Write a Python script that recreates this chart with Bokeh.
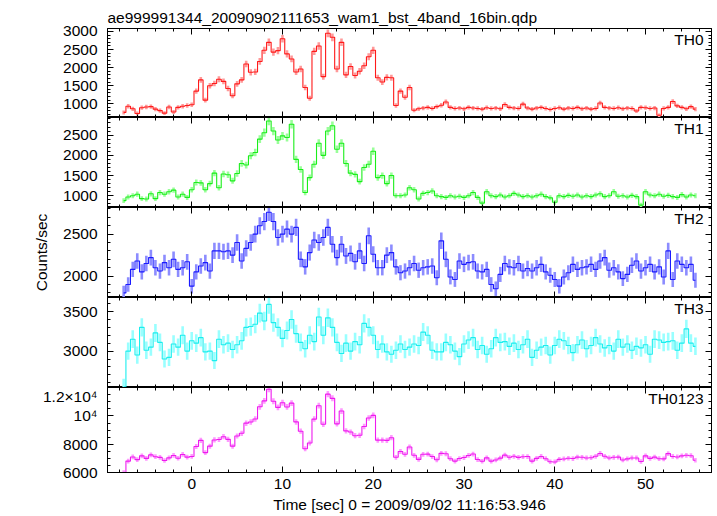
import numpy as np
from bokeh.plotting import figure
from bokeh.models import ColumnDataSource, Range1d, LinearAxis, FixedTicker, Label
from bokeh.layouts import column
from bokeh.embed import file_html
from bokeh.resources import INLINE

FONT = "Liberation Sans"
FS = "15.5px"

# ---- data (counts/sec, 0.5 s bins starting at t = -7.5 s) ----
time_start = -7.5
bin_width = 0.5

th0 = [
    760, 930, 860, 730, 890, 910, 920, 850, 810, 740,
    910, 770, 900, 930, 950, 970, 1350, 1660, 1100, 1500,
    1560, 1680, 1620, 1420, 1220, 1550, 1660, 2100, 1870, 1880,
    2170, 2480, 2700, 2430, 2470, 2800, 2380, 2240, 1880, 1960,
    1450, 1150, 2450, 2600, 1750, 2950, 2840, 1960, 2700, 1800,
    2030, 1780, 1900, 2050, 2300, 2480, 1720, 1600, 1730, 1720,
    950, 1350, 1180, 1450, 820, 860, 880, 900, 870, 920,
    960, 1050, 900, 870, 880, 860, 900, 880, 870, 850,
    890, 870, 880, 860, 980, 900, 880, 870, 990, 880,
    850, 880, 900, 870, 840, 870, 890, 850, 880, 870,
    900, 860, 880, 850, 870, 1020, 900, 880, 870, 890,
    860, 880, 870, 800, 900, 890, 870, 880, 680, 870,
    900, 1060, 940, 900, 860, 920, 850,
]
th1 = [
    880, 970, 1000, 1040, 930, 920, 1050, 930, 1080, 1040,
    1100, 1140, 970, 1040, 960, 1150, 1330, 1320, 1150, 1300,
    1560, 1200, 1540, 1520, 1370, 1550, 1800, 1760, 1990, 2070,
    2400, 2560, 2850, 2600, 2380, 2480, 2440, 2770, 1900, 1650,
    1080, 1450, 1780, 2300, 2000, 2600, 2730, 2150, 2300, 1800,
    1560, 1530, 1350, 1700, 1780, 2100, 1450, 1500, 1300, 1500,
    1000, 1000, 1020, 1200, 1150, 920, 1060, 1080, 1120, 1000,
    980, 960, 1000, 970, 990, 960, 1000, 1080, 960, 820,
    1100, 1000, 980, 1020, 970, 1000, 1060, 1020, 980, 1000,
    970, 1000, 1040, 980, 950, 840, 1000, 980, 1010, 990,
    1020, 970, 1000, 980, 1020, 1050, 980, 1000, 1100, 990,
    1000, 970, 1010, 980, 770, 1100, 1020, 1000, 1040, 990,
    1010, 980, 960, 1030, 970, 1020, 1000,
]
th2 = [
    1800, 1900, 2080, 2180, 2050, 2150, 2220, 2100, 2060, 2160,
    2100, 2200, 2080, 2100, 2170, 1880, 2050, 2120, 2160, 2060,
    2300, 2300, 2290, 2300, 2250, 2400, 2180, 2330, 2400, 2500,
    2600, 2650, 2760, 2650, 2460, 2500, 2560, 2500, 2580, 2200,
    2110, 2280, 2430, 2400, 2460, 2580, 2380, 2220, 2380, 2240,
    2270, 2170, 2300, 2150, 2480, 2260, 2100, 2100, 2250, 2280,
    2110, 2040, 2060, 2100, 2150, 2070, 2100, 2110, 2120, 1980,
    2420, 2200, 1990, 1960, 2180, 2140, 2160, 2170, 2060, 2050,
    2080, 1900, 1850, 2020, 2150, 2110, 2100, 2150, 2060, 2090,
    2060, 2100, 2140, 2050, 2010, 1960, 1880, 1990, 2040, 2140,
    2080, 2100, 2110, 2140, 2080, 2180, 2220, 2070, 2100, 2050,
    1970, 2020, 2130, 2180, 2060, 2100, 2140, 2050, 2110, 1990,
    2300, 1960, 2180, 2140, 2100, 2140, 1950,
]
th3 = [
    2550, 3000, 3150, 2950, 3300, 3010, 3050, 3230, 3110, 2900,
    2920, 3090, 3050, 3200, 3000, 3130, 3100, 3170, 2990, 3000,
    2880, 3150, 3080, 3100, 3020, 3080, 3130, 3300, 3310, 3340,
    3480, 3380, 3590, 3360, 3300, 3160, 3260, 3400, 3220, 3110,
    3030, 3200, 3120, 3430, 3200, 3420, 3300, 3110, 2970, 3100,
    3000, 3120, 3080, 3350, 3300, 3200, 3020, 3090, 2990, 2960,
    3010, 3090, 3020, 3050, 3090, 3070, 3240, 3200, 3010, 2990,
    2990, 3110, 3080, 3000, 2930, 3090, 3140, 3170, 3020, 3070,
    2960, 3030, 3170, 3110, 3120, 3060, 3100, 3020, 3080, 3150,
    2920, 3010, 3050, 3070, 2950, 3070, 3150, 3130, 3070, 2980,
    3080, 3140, 3030, 3070, 3170, 3090, 3040, 3070, 3000, 3150,
    3050, 3090, 3010, 3060, 3040, 3080, 2960, 3150, 3140, 3110,
    3120, 3130, 3010, 3100, 3280, 3100, 3060,
]
# TH0123 is the sum of the four energy bands
th0123 = [a + b + c + d for a, b, c, d in zip(th0, th1, th2, th3)]

band_names = ["TH0", "TH1", "TH2", "TH3", "TH0123"]
x_major_ticks = [0, 10, 20, 30, 40, 50]
title_text = "ae999991344_20090902111653_wam1_bst_4band_16bin.qdp"
x_label = "Time [sec] 0 = 2009/09/02 11:16:53.946"
y_label = "Counts/sec"

time = time_start + bin_width * np.arange(len(th0))

panels = [
    dict(y=th0, color="#ff1a1a", light="#ff9999", yr=(619, 3083),
         major=[1000, 1500, 2000, 2500, 3000], minor=list(range(600, 3101, 100)), fh=89),
    dict(y=th1, color="#1aee1a", light="#99ff99", yr=(711, 2935),
         major=[1000, 1500, 2000, 2500], minor=list(range(700, 3001, 100)), fh=90),
    dict(y=th2, color="#1a1aff", light="#8c8cff", yr=(1745, 2817),
         major=[2000, 2500], minor=list(range(1700, 2901, 100)), fh=90),
    dict(y=th3, color="#1aeeee", light="#99ffff", yr=(2540, 3677),
         major=[3000, 3500], minor=list(range(2500, 3701, 100)), fh=90),
    dict(y=th0123, color="#ee1aee", light="#ff99ff", yr=(5990, 12020),
         major=[6000, 8000, 10000, 12000], minor=list(range(6000, 12001, 500)), fh=88),
]

xr = Range1d(-9.28, 57.27)
x_minor = list(range(-10, 58, 2))


def style_axis(ax, labels):
    ax.major_tick_in = 6
    ax.major_tick_out = 0
    ax.minor_tick_in = 3
    ax.minor_tick_out = 0
    ax.axis_line_color = "black"
    ax.major_tick_line_color = "black"
    ax.minor_tick_line_color = "black"
    ax.major_label_text_font = FONT
    ax.axis_label_text_font = FONT
    ax.axis_label_text_font_style = "normal"
    ax.axis_label_text_font_size = FS
    ax.axis_label_text_color = "black"
    if labels:
        ax.major_label_text_font_size = FS
        ax.major_label_text_color = "black"
        ax.major_label_standoff = 10
    else:
        # tick marks only: labels not painted
        ax.major_label_text_font_size = "1px"
        ax.major_label_text_color = None
        ax.major_label_standoff = 0


figs = []
n = len(panels)
for i, (pn, name) in enumerate(zip(panels, band_names)):
    top = 28 if i == 0 else 0
    bottom = 40 if i == n - 1 else 0
    p = figure(width=716, height=pn["fh"] + top + bottom, x_range=xr,
               y_range=Range1d(*pn["yr"]), output_backend="svg",
               toolbar_location=None, x_axis_location=None, y_axis_location=None,
               min_border_left=107, min_border_right=5,
               min_border_top=top, min_border_bottom=bottom,
               outline_line_color="black", background_fill_color="white",
               border_fill_color="white")
    p.grid.visible = False

    yv = np.array(pn["y"], dtype=float)
    err = np.sqrt(yv / 0.25)
    src = ColumnDataSource(dict(t=time, y=yv, lo=yv - err, hi=yv + err))
    p.segment(x0="t", y0="lo", x1="t", y1="hi", source=src,
              line_color=pn["light"], line_width=2.6)
    p.step(x="t", y="y", source=src, mode="center",
           line_color=pn["color"], line_width=1.1)

    # axes: left (labelled), right, above, below
    left = LinearAxis(ticker=FixedTicker(ticks=pn["major"], minor_ticks=pn["minor"]))
    style_axis(left, True)
    if name == "TH0123":
        left.major_label_overrides = {12000: "1.2×10⁴", 10000: "10⁴"}
    if name == "TH2":
        left.axis_label = y_label
        left.axis_label_standoff = 10
    p.add_layout(left, "left")

    right = LinearAxis(ticker=FixedTicker(ticks=pn["major"], minor_ticks=pn["minor"]))
    style_axis(right, False)
    p.add_layout(right, "right")

    above = LinearAxis(ticker=FixedTicker(ticks=x_major_ticks, minor_ticks=x_minor))
    style_axis(above, False)
    p.add_layout(above, "above")

    below = LinearAxis(ticker=FixedTicker(ticks=x_major_ticks, minor_ticks=x_minor))
    if i == n - 1:
        style_axis(below, True)
        below.major_label_standoff = 6
        below.axis_label = x_label
        below.axis_label_standoff = 4
    else:
        style_axis(below, False)
    p.add_layout(below, "below")

    p.add_layout(Label(x=xr.end, y=pn["yr"][1], text=name, text_align="right",
                       text_baseline="top", x_offset=-8, y_offset=-2,
                       text_font=FONT, text_font_size=FS, text_color="black"))

    if i == 0:
        p.title.text = title_text
        p.title.align = "left"
        p.title.text_font = FONT
        p.title.text_font_size = FS
        p.title.text_font_style = "normal"
        p.title.text_color = "black"
        p.title.standoff = 5
        p.title.offset = 0
    figs.append(p)

layout = column(*figs, spacing=0)
open("out.html", "w").write(file_html(layout, INLINE))
